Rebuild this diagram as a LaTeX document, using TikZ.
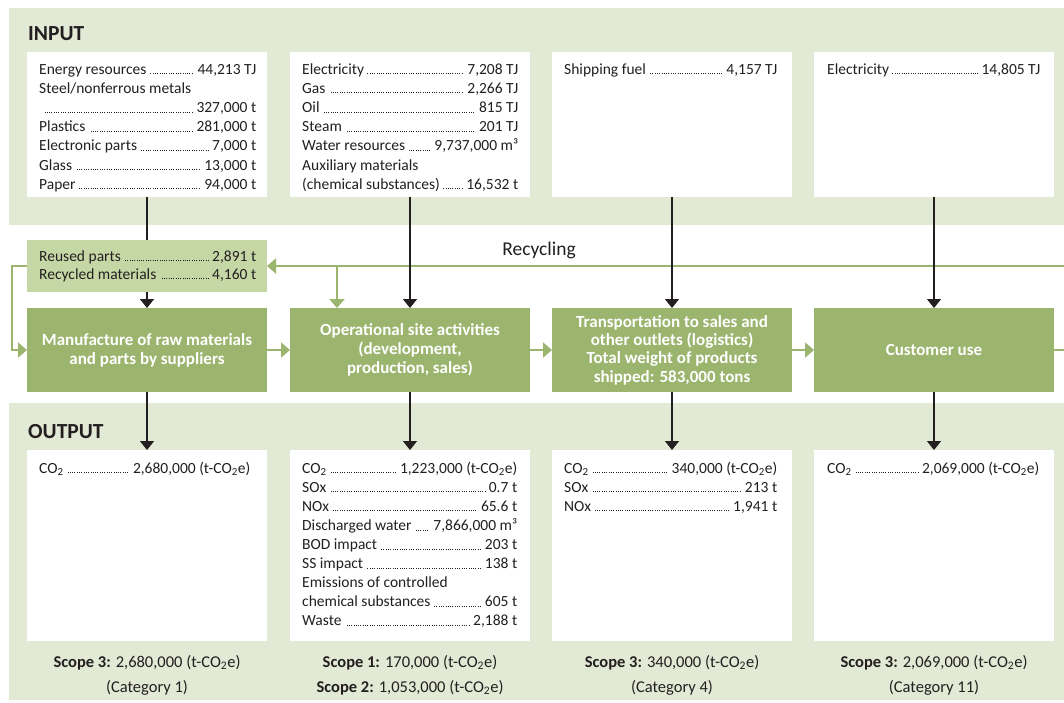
\documentclass[tikz,border=0pt]{standalone}
\usepackage{fontspec}
\setmainfont{Carlito}
\usetikzlibrary{arrows.meta}

\definecolor{panel}{HTML}{E2E9D4}
\definecolor{procgreen}{HTML}{9BB56E}
\definecolor{reusegreen}{HTML}{C6D7A6}
\definecolor{ink}{HTML}{231F20}

% dotted leader between an item and its amount
\newcommand\dotlead{\leaders\hbox to 2.3pt{\hss\rule{0.8pt}{0.8pt}\hss}\hfill}
\newcommand\listrow[2]{\hbox to \hsize{#1\kern2.5pt\dotlead\kern2.5pt#2}}
\newcommand\listline[1]{\hbox{#1}}
\newcommand\cotwo{CO\textsubscript{2}}

\begin{document}
\begin{tikzpicture}[x=1pt,y=-1pt,
  wbox/.style={fill=white, draw=none, inner sep=0pt, outer sep=0pt, minimum width=240pt},
  inbox/.style={wbox, minimum height=145pt},
  outbox/.style={wbox, minimum height=191pt},
  procbox/.style={fill=procgreen, draw=none, inner sep=0pt, outer sep=0pt,
    minimum width=240pt, minimum height=84pt, align=center, text=white,
    font=\bfseries\fontsize{17}{19}\selectfont},
  reusebox/.style={fill=reusegreen, draw=none, inner sep=0pt, outer sep=0pt,
    minimum width=240pt, minimum height=52pt},
  listtext/.style={anchor=base west, inner sep=0pt, text=ink,
    font=\fontsize{15.5}{19.2}\selectfont},
  heading/.style={anchor=base west, inner sep=0pt, text=ink,
    font=\bfseries\fontsize{21.5}{24}\selectfont},
  scopetext/.style={anchor=base, inner sep=0pt, text=ink, align=center,
    font=\fontsize{16.5}{25}\selectfont},
  blk/.style={draw=ink, line width=1.3pt, -{Triangle[width=14pt,length=9pt]}},
  blkline/.style={draw=ink, line width=1.3pt},
  grn/.style={draw=procgreen, line width=2pt, -{Triangle[width=15pt,length=9pt]}},
  grnline/.style={draw=procgreen, line width=2pt}]

\useasboundingbox (0,0) rectangle (1064,702);
\fill[white] (0,0) rectangle (1064,702);

% background panels
\fill[panel] (9,8) rectangle (1064,225);
\fill[panel] (9,403) rectangle (1064,700);

\node[heading] (inputlbl) at (28,40) {INPUT};
\node[heading] (outputlbl) at (28,438) {OUTPUT};

% input boxes
\node[inbox] (in1) at (147,124.5) {};
\node[inbox] (in2) at (410,124.5) {};
\node[inbox] (in3) at (672,124.5) {};
\node[inbox] (in4) at (934,124.5) {};

\node[listtext] (in1t) at (39,74) {\vtop{\hsize=217pt \baselineskip=19.2pt
  \listrow{Energy resources}{44,213 TJ}
  \listline{Steel/nonferrous metals}
  \listrow{}{327,000 t}
  \listrow{Plastics}{281,000 t}
  \listrow{Electronic parts}{7,000 t}
  \listrow{Glass}{13,000 t}
  \listrow{Paper}{94,000 t}}};

\node[listtext] (in2t) at (302,74) {\vtop{\hsize=216pt \baselineskip=19.2pt
  \listrow{Electricity}{7,208 TJ}
  \listrow{Gas}{2,266 TJ}
  \listrow{Oil}{815 TJ}
  \listrow{Steam}{201 TJ}
  \listrow{Water resources}{9,737,000 m³}
  \listline{Auxiliary materials}
  \listrow{(chemical substances)}{16,532 t}}};

\node[listtext] (in3t) at (564,74) {\vtop{\hsize=213pt
  \listrow{Shipping fuel}{4,157 TJ}}};

\node[listtext] (in4t) at (827,74) {\vtop{\hsize=213pt
  \listrow{Electricity}{14,805 TJ}}};

% reused / recycled inputs
\node[reusebox] (reuse) at (147,266) {};
\node[listtext] (reuset) at (39,261) {\vtop{\hsize=217pt \baselineskip=18pt
  \listrow{Reused parts}{2,891 t}
  \listrow{Recycled materials}{4,160 t}}};

% process stages
\node[procbox] (m1) at (147,350) {Manufacture of raw materials\\and parts by suppliers};
\node[procbox] (m2) at (410,350) {Operational site activities\\(development,\\production, sales)};
\node[procbox, font=\bfseries\fontsize{17}{18.3}\selectfont] (m3) at (672,350)
  {Transportation to sales and\\other outlets (logistics)\\Total weight of products\\shipped: 583,000 tons};
\node[procbox] (m4) at (934,350) {Customer use};

% output boxes
\node[outbox] (out1) at (147,545.5) {};
\node[outbox] (out2) at (410,545.5) {};
\node[outbox] (out3) at (672,545.5) {};
\node[outbox] (out4) at (934,545.5) {};

\node[listtext] (out1t) at (39,473) {\vtop{\hsize=211pt
  \listrow{\cotwo}{2,680,000 (t-\cotwo e)}}};

\node[listtext] (out2t) at (302,473) {\vtop{\hsize=215pt \baselineskip=19.1pt
  \listrow{\cotwo}{1,223,000 (t-\cotwo e)}
  \listrow{SOx}{0.7 t}
  \listrow{NOx}{65.6 t}
  \listrow{Discharged water}{7,866,000 m³}
  \listrow{BOD impact}{203 t}
  \listrow{SS impact}{138 t}
  \listline{Emissions of controlled}
  \listrow{chemical substances}{605 t}
  \listrow{Waste}{2,188 t}}};

\node[listtext] (out3t) at (564,473) {\vtop{\hsize=213pt \baselineskip=19.1pt
  \listrow{\cotwo}{340,000 (t-\cotwo e)}
  \listrow{SOx}{213 t}
  \listrow{NOx}{1,941 t}}};

\node[listtext] (out4t) at (827,473) {\vtop{\hsize=212pt
  \listrow{\cotwo}{2,069,000 (t-\cotwo e)}}};

% scope totals (anchored on the baseline of the second line)
\node[scopetext] (s1) at (147,692) {\textbf{Scope 3:} 2,680,000 (t-\cotwo e)\\(Category 1)};
\node[scopetext] (s2) at (410,692) {\textbf{Scope 1:} 170,000 (t-\cotwo e)\\\textbf{Scope 2:} 1,053,000 (t-\cotwo e)};
\node[scopetext] (s3) at (672,692) {\textbf{Scope 3:} 340,000 (t-\cotwo e)\\(Category 4)};
\node[scopetext] (s4) at (934,692) {\textbf{Scope 3:} 2,069,000 (t-\cotwo e)\\(Category 11)};

% recycling loop
\node[anchor=center, inner sep=0pt, text=ink, font=\fontsize{19.5}{22}\selectfont] (recyc) at (539,250) {Recycling};
\coordinate (recin) at (1064,266);
\coordinate (recbr) at (337,266);
\coordinate (flowout) at (1064,350);

\draw[grn] (recin) -- (reuse.east);
\draw[grn] (recbr) -- (m2.north -| recbr);
\draw[grn] (reuse.west) -- ++(-15,0) |- (m1.west);

% main flow
\draw[grn] (m1.east) -- (m2.west);
\draw[grn] (m2.east) -- (m3.west);
\draw[grn] (m3.east) -- (m4.west);
\draw[grnline] (m4.east) -- (flowout);

% inputs into stages
\draw[blkline] (in1.south) -- (reuse.north);
\draw[blk] (reuse.south) -- (m1.north);
\draw[blk] (in2.south) -- (m2.north);
\draw[blk] (in3.south) -- (m3.north);
\draw[blk] (in4.south) -- (m4.north);

% stages into outputs
\draw[blk] (m1.south) -- (out1.north);
\draw[blk] (m2.south) -- (out2.north);
\draw[blk] (m3.south) -- (out3.north);
\draw[blk] (m4.south) -- (out4.north);
\end{tikzpicture}
\end{document}
